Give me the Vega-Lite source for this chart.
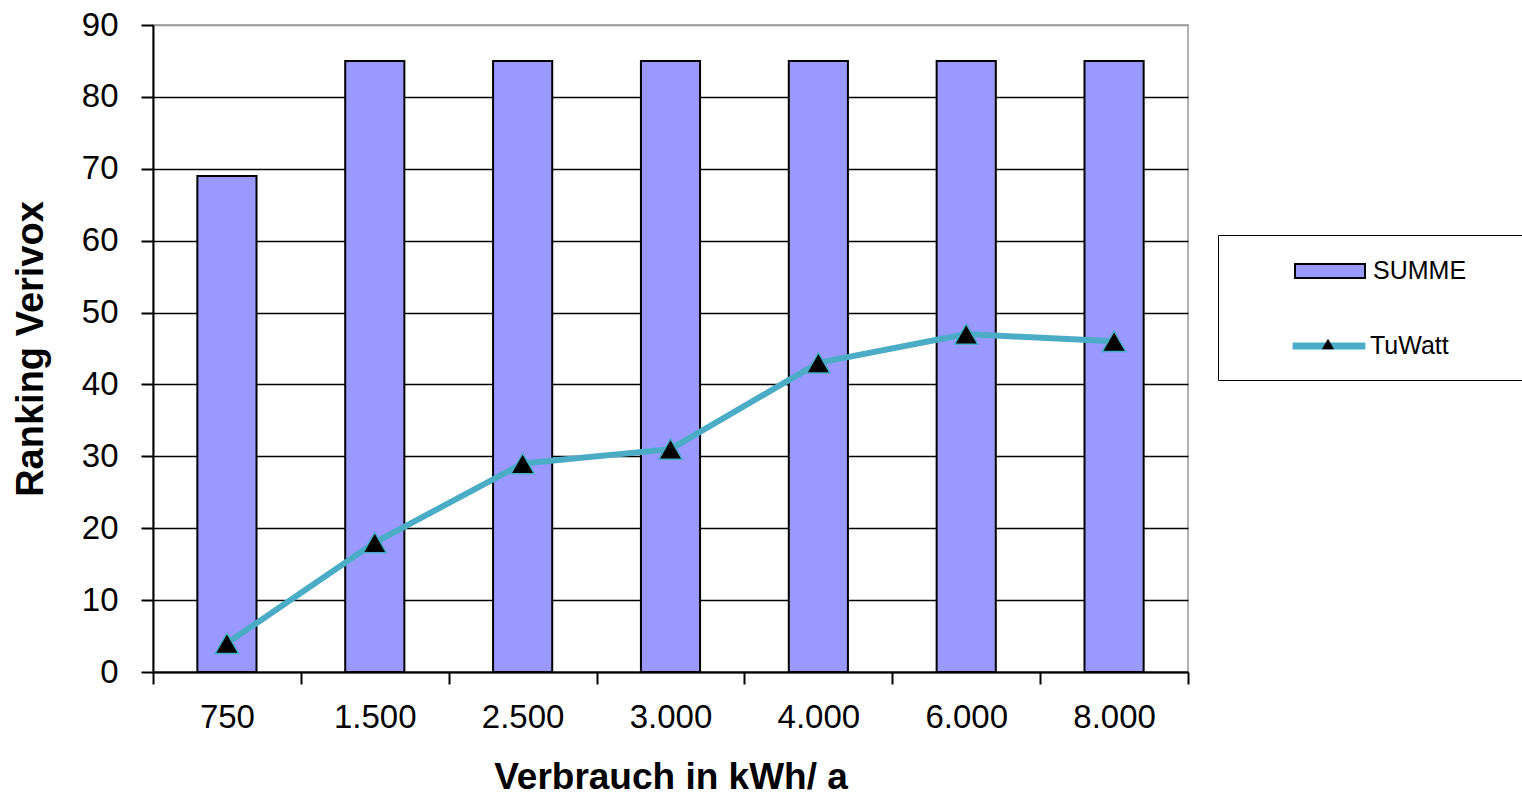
{
  "$schema": "https://vega.github.io/schema/vega-lite/v6.json",
  "width": 1035,
  "height": 647,
  "autosize": {"type": "none"},
  "padding": {"left": 153, "top": 25, "right": 334, "bottom": 125},
  "background": "white",
  "config": {
    "font": "Liberation Sans",
    "view": {"stroke": "#999999", "strokeWidth": 1.5}
  },
  "data": {
    "values": [
      {"verbrauch": "750", "series": "SUMME", "wert": 69},
      {"verbrauch": "1.500", "series": "SUMME", "wert": 85},
      {"verbrauch": "2.500", "series": "SUMME", "wert": 85},
      {"verbrauch": "3.000", "series": "SUMME", "wert": 85},
      {"verbrauch": "4.000", "series": "SUMME", "wert": 85},
      {"verbrauch": "6.000", "series": "SUMME", "wert": 85},
      {"verbrauch": "8.000", "series": "SUMME", "wert": 85},
      {"verbrauch": "750", "series": "TuWatt", "wert": 4},
      {"verbrauch": "1.500", "series": "TuWatt", "wert": 18},
      {"verbrauch": "2.500", "series": "TuWatt", "wert": 29},
      {"verbrauch": "3.000", "series": "TuWatt", "wert": 31},
      {"verbrauch": "4.000", "series": "TuWatt", "wert": 43},
      {"verbrauch": "6.000", "series": "TuWatt", "wert": 47},
      {"verbrauch": "8.000", "series": "TuWatt", "wert": 46}
    ]
  },
  "encoding": {
    "x": {
      "field": "verbrauch",
      "type": "nominal",
      "sort": null,
      "scale": {"paddingInner": 0, "paddingOuter": 0},
      "title": "Verbrauch in kWh/ a",
      "axis": {
        "labelAngle": 0,
        "labelFontSize": 33,
        "labelColor": "black",
        "labelPadding": 17,
        "tickSize": 12,
        "tickColor": "black",
        "tickWidth": 2,
        "tickBand": "extent",
        "domainColor": "black",
        "domainWidth": 2,
        "grid": false,
        "titleFontSize": 37,
        "titleFontWeight": "bold",
        "titleColor": "black",
        "titlePadding": 25
      }
    },
    "y": {
      "field": "wert",
      "type": "quantitative",
      "scale": {"domain": [0, 90], "nice": false},
      "title": "Ranking Verivox",
      "axis": {
        "values": [0, 10, 20, 30, 40, 50, 60, 70, 80, 90],
        "labelFontSize": 33,
        "labelColor": "black",
        "labelPadding": 23,
        "tickSize": 12,
        "tickColor": "black",
        "tickWidth": 2,
        "domainColor": "black",
        "domainWidth": 2,
        "gridColor": {"condition": {"test": "datum.value === 90", "value": "#999999"}, "value": "black"},
        "gridWidth": 1.5,
        "titleFontSize": 38,
        "titleFontWeight": "bold",
        "titleColor": "black",
        "titlePadding": 31
      }
    }
  },
  "layer": [
    {
      "transform": [{"filter": "datum.series === 'SUMME'"}],
      "mark": {"type": "bar", "width": {"band": 0.4}, "stroke": "black", "strokeWidth": 2},
      "encoding": {
        "color": {
          "field": "series",
          "type": "nominal",
          "scale": {"domain": ["SUMME"], "range": ["#9999ff"]},
          "legend": {
            "orient": "none",
            "legendX": 1065,
            "legendY": 210,
            "title": "\u00a0",
            "titleOrient": "bottom",
            "titleFontSize": 25,
            "titlePadding": 71,
            "padding": 0,
            "strokeColor": "black",
            "fillColor": "white",
            "symbolType": "M-1,-0.2H1V0.2H-1Z",
            "symbolSize": 4900,
            "symbolOffset": 76,
            "symbolStrokeColor": "black",
            "symbolStrokeWidth": 2,
            "symbolOpacity": 1,
            "labelFontSize": 25,
            "labelColor": "black",
            "labelOffset": 7,
            "labelExpr": "datum.label + '\u00a0\u00a0\u00a0\u00a0\u00a0\u00a0\u00a0\u00a0\u00a0\u00a0\u00a0\u00a0\u00a0\u00a0\u00a0\u200b'",
            "labelLimit": 400
          }
        }
      }
    },
    {
      "transform": [{"filter": "datum.series === 'TuWatt'"}],
      "mark": {"type": "line", "strokeWidth": 6},
      "encoding": {
        "stroke": {
          "field": "series",
          "type": "nominal",
          "scale": {"domain": ["TuWatt"], "range": ["#4bacc6"]},
          "legend": {
            "orient": "none",
            "legendX": 1136,
            "legendY": 281,
            "title": null,
            "padding": 0,
            "symbolType": "stroke",
            "symbolSize": 5300,
            "symbolStrokeWidth": 7,
            "symbolOpacity": 1,
            "labelFontSize": 25,
            "labelColor": "black",
            "labelOffset": 1
          }
        }
      }
    },
    {
      "transform": [{"filter": "datum.series === 'TuWatt'"}],
      "mark": {
        "type": "point",
        "filled": true,
        "fill": "black",
        "stroke": "#4bacc6",
        "strokeWidth": 1.5,
        "size": 550,
        "opacity": 1
      },
      "encoding": {
        "shape": {
          "field": "series",
          "type": "nominal",
          "scale": {"domain": ["TuWatt", "Marker"], "range": ["triangle-up", "circle"]},
          "legend": {
            "orient": "none",
            "legendX": 1168,
            "legendY": 312,
            "values": ["TuWatt"],
            "title": null,
            "padding": 0,
            "symbolSize": 150,
            "symbolFillColor": "black",
            "symbolStrokeColor": "#4bacc6",
            "symbolStrokeWidth": 1,
            "symbolOpacity": 1,
            "labelOpacity": 0,
            "labelFontSize": 10
          }
        }
      }
    }
  ]
}
